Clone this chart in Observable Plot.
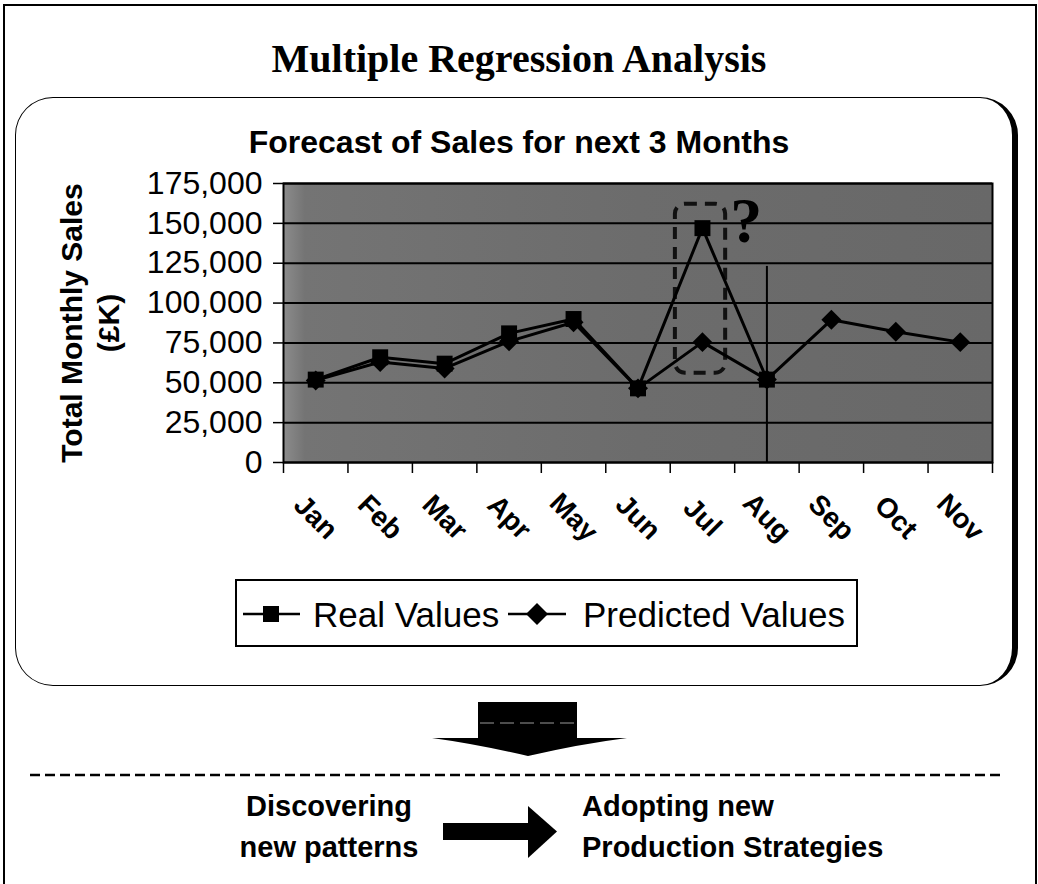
<!DOCTYPE html>
<html>
<head>
<meta charset="utf-8">
<script src="https://cdn.jsdelivr.net/npm/d3@7"></script>
<script src="https://cdn.jsdelivr.net/npm/@observablehq/plot@0.6"></script>
<style>
  body { margin: 0; background: #fff; }
  #page { position: relative; width: 1038px; height: 884px; overflow: hidden; background: #fff;
          font-family: "Liberation Sans", Arial, sans-serif; color: #000; }
  .abs { position: absolute; }
  #outer { left: 3px; top: 4px; width: 1030px; height: 920px; border: 2px solid #000; }
  #title { left: 0; width: 1038px; top: 39px; text-align: center; font-family: "Liberation Serif", "Times New Roman", serif;
           font-weight: bold; font-size: 40px; line-height: 40px; }
  #box { left: 15px; top: 97px; width: 996px; height: 587px; border: 1.5px solid #000; border-right-width: 6px;
         border-radius: 38px; }
  #ctitle { left: 0; width: 1038px; top: 126px; text-align: center; font-weight: bold; font-size: 32px; line-height: 32px; }
  #chart { left: 0; top: 170px; }
  #deco { left: 0; top: 0; }
  .leg { font-size: 35px; line-height: 35px; top: 597px; white-space: nowrap; }
  .flow { font-weight: bold; font-size: 29px; line-height: 41px; top: 786px; white-space: nowrap; }
</style>
</head>
<body>
<div id="page">
  <div id="outer" class="abs"></div>
  <div id="box" class="abs"></div>
  <div id="title" class="abs">Multiple Regression Analysis</div>
  <div id="ctitle" class="abs">Forecast of Sales for next 3 Months</div>
  <div id="chart" class="abs"></div>
  <svg id="deco" class="abs" width="1038" height="884">
    <rect x="236" y="580" width="621" height="66" fill="#fff" stroke="#000" stroke-width="2"></rect>
    <line x1="243" x2="300" y1="614" y2="614" stroke="#000" stroke-width="2.5"></line>
    <rect x="263" y="606" width="16" height="16" fill="#000"></rect>
    <line x1="508" x2="566" y1="614" y2="614" stroke="#000" stroke-width="2.5"></line>
    <path d="M537 603 L548 614 L537 625 L526 614 Z" fill="#000"></path>
    <path d="M478 702 H577 V738 H627 Q580 744 528 756 Q476 744 432 738 H478 Z" fill="#000"></path>
    <line x1="480" x2="577" y1="723" y2="723" stroke="#fff" stroke-width="1" stroke-dasharray="14 6" opacity="0.6"></line>
    <line x1="30" x2="1003" y1="775" y2="775" stroke="#000" stroke-width="2.5" stroke-dasharray="10 5"></line>
    <rect x="443" y="823" width="87" height="17" fill="#000"></rect>
    <path d="M528 806 L557 831.5 L528 858 Z" fill="#000"></path>
  </svg>
  <div class="abs leg" style="left:313px">Real Values</div>
  <div class="abs leg" style="left:583px">Predicted Values</div>
  <div class="abs flow" style="left:229px;width:200px;text-align:center">Discovering<br>new patterns</div>
  <div class="abs flow" style="left:582px">Adopting new<br>Production Strategies</div>
</div>
<script>
// ---- data ----
const months = ["Jan", "Feb", "Mar", "Apr", "May", "Jun", "Jul", "Aug", "Sep", "Oct", "Nov"];
const realValues = [52000, 66000, 62000, 81000, 90000, 46500, 147000, 52000];
const predictedValues = [51500, 63000, 59000, 76000, 88000, 46500, 75500, 52000, 89500, 82000, 75500];
const yTicks = [0, 25000, 50000, 75000, 100000, 125000, 150000, 175000];
const highlightMonth = "Jul";
const highlightRange = [56000, 162000];
const splitMonth = "Aug";
const splitTop = 123000;
const questionValue = 151000;

// ---- helpers ----
const pos = m => months.indexOf(m) + 0.5;
const real = realValues.map((v, i) => ({month: months[i], value: v}));
const predicted = predictedValues.map((v, i) => ({month: months[i], value: v}));

const chart = Plot.plot({
  width: 1038,
  height: 400,
  marginLeft: 283,
  marginRight: 46,
  marginTop: 13,
  marginBottom: 108,
  style: {background: "transparent", fontFamily: "'Liberation Sans', Arial, sans-serif", color: "#000", overflow: "visible"},
  x: {type: "linear", domain: [0, months.length], axis: null},
  y: {domain: [0, 175000], axis: null},
  marks: [
    Plot.frame({fill: "url(#plotbg)"}),
    Plot.ruleY(yTicks, {stroke: "#000", strokeWidth: 2}),
    Plot.axisY({ticks: yTicks, tickFormat: d3.format(","), tickSize: 10, tickPadding: 11, fontSize: 32, strokeWidth: 1.5, label: null}),
    Plot.axisX({ticks: d3.range(months.length + 1), tickFormat: () => "", tickSize: 11, strokeWidth: 1.5, label: null}),
    Plot.text(months, {x: (d, i) => i + 0.5, frameAnchor: "bottom", dy: 55, rotate: 45, textAnchor: "middle",
                       lineAnchor: "middle", fontSize: 28, fontWeight: "bold", fill: "#000"}),
    Plot.text(["Total Monthly Sales\n(£K)"], {frameAnchor: "left", dx: -195, rotate: -90, fontSize: 30, fontWeight: "bold",
                       lineHeight: 1.23, textAnchor: "middle", lineAnchor: "middle", fill: "#000"}),
    Plot.ruleX([splitMonth], {x: pos, y1: 0, y2: splitTop, stroke: "#000", strokeWidth: 2}),
    Plot.rect([highlightMonth], {x1: d => pos(d) - 0.42, x2: d => pos(d) + 0.36, y1: highlightRange[0], y2: highlightRange[1],
                       rx: 10, fill: "none", stroke: "#111", strokeWidth: 4, strokeDasharray: "12,8"}),
    Plot.line(predicted, {x: d => pos(d.month), y: "value", stroke: "#000", strokeWidth: 3}),
    Plot.line(real, {x: d => pos(d.month), y: "value", stroke: "#000", strokeWidth: 3}),
    Plot.dot(predicted, {x: d => pos(d.month), y: "value", symbol: "diamond2", r: 9, fill: "#000"}),
    Plot.dot(real, {x: d => pos(d.month), y: "value", symbol: "square", r: 9, fill: "#000"}),
    Plot.text(["?"], {x: pos(highlightMonth) + 0.68, y: questionValue, fontSize: 64, fontWeight: "bold",
                       fontFamily: "'Liberation Serif', 'Times New Roman', serif", fill: "#000"}),
    Plot.frame({stroke: "#000", strokeWidth: 2})
  ]
});

// background gradient for the plot area
const svg = d3.select(chart);
const defs = svg.insert("defs", ":first-child");
const g = defs.append("linearGradient").attr("id", "plotbg").attr("x1", "0").attr("x2", "1").attr("y1", "0").attr("y2", "0");
g.append("stop").attr("offset", "0").attr("stop-color", "#8c8c8c");
g.append("stop").attr("offset", "0.03").attr("stop-color", "#747474");
g.append("stop").attr("offset", "0.5").attr("stop-color", "#6c6c6c");
g.append("stop").attr("offset", "1").attr("stop-color", "#686868");

document.getElementById("chart").appendChild(chart);
</script>
</body>
</html>
